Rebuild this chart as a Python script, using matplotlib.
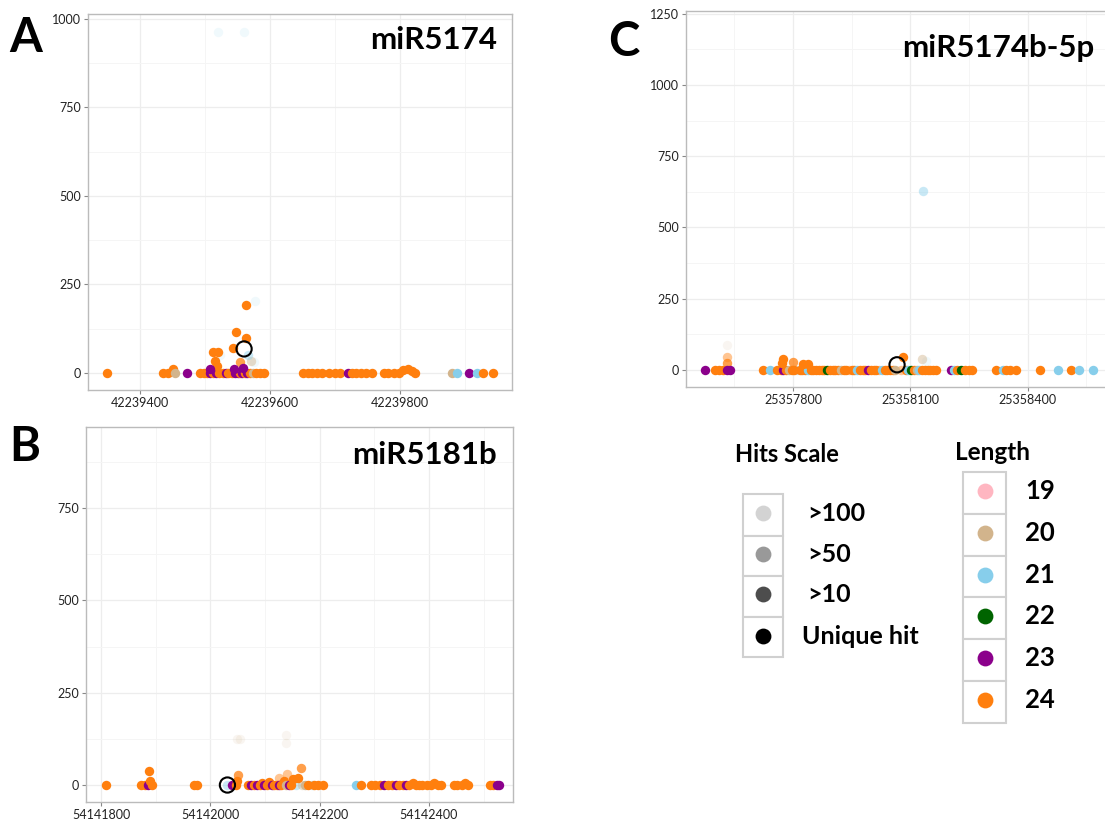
import matplotlib
matplotlib.use("Agg")
import matplotlib.pyplot as plt
from matplotlib.patches import Rectangle
from matplotlib.ticker import FuncFormatter, MultipleLocator

plt.rcParams['font.family'] = ['Lato', 'DejaVu Sans']

# colours for read length and alpha for hit class
len_colors = {19: '#FFB6C1', 20: '#D2B48C', 21: '#87CEEB', 22: '#006400', 23: '#8B008B', 24: '#FF7F0E'}
hit_alpha = {1: 1.0, 10: 0.75, 50: 0.45, 100: 0.12}
hit_labels = ['>100', '>50', '>10', 'Unique hit']
hit_colors = ['#D3D3D3', '#999999', '#4D4D4D', '#000000']
len_labels = [19, 20, 21, 22, 23, 24]

# ---- panel A : miR5174 ----
a_pos = [42239349, 42239436, 42239443, 42239450, 42239454, 42239472, 42239492, 42239498, 42239503,
         42239507, 42239512, 42239517, 42239522, 42239527, 42239532, 42239536, 42239541, 42239546,
         42239550, 42239553, 42239557, 42239561, 42239565, 42239569, 42239573, 42239578, 42239584,
         42239590,
         42239512, 42239520, 42239515, 42239518, 42239507, 42239548, 42239563, 42239563, 42239543,
         42239553, 42239570, 42239558, 42239545,
         42239577, 42239520, 42239560, 42239523, 42239575, 42239566,
         42239651, 42239658, 42239665, 42239672, 42239680, 42239690, 42239700, 42239708,
         42239720, 42239726, 42239732, 42239740, 42239748, 42239756,
         42239775, 42239782, 42239790, 42239798, 42239805, 42239812, 42239818, 42239823,
         42239880, 42239888, 42239906, 42239918, 42239928, 42239943]
a_val = [0, 0, 0, 10] + [0] * 24 + \
        [58, 58, 33, 19, 12, 115, 100, 193, 70, 30, 33, 15, 12] + \
        [202, 964, 964, 50, 30, 50] + \
        [0] * 8 + [0] * 6 + [0, 0, 0, 0, 8, 10, 6, 0] + [0] * 6
a_len = [24, 24, 24, 24, 20, 23, 24, 24, 24, 23, 24, 23, 24, 24, 23, 24, 24, 23, 23, 24, 23, 24, 23,
         24, 20, 24, 24, 24,
         24, 24, 24, 24, 23, 24, 24, 24, 24, 24, 20, 23, 23,
         21, 21, 21, 21, 21, 21,
         24, 24, 24, 24, 24, 24, 24, 24,
         23, 24, 24, 24, 24, 24,
         24, 24, 24, 24, 24, 24, 24, 24,
         20, 21, 23, 21, 24, 24]
a_hit = [1] * 28 + [1, 1, 1, 1, 1, 1, 1, 1, 1, 10, 50, 1, 1] + [100, 100, 100, 100, 100, 50] + [1] * 28
a_unique = (42239560, 68)

# ---- panel B : miR5181b ----
b_pos = [54141809, 54141872, 54141880, 54141885, 54141892, 54141888, 54141890, 54141969, 54141976,
         54142031, 54142040, 54142046, 54142050, 54142049, 54142048, 54142054,
         54142068, 54142075, 54142080, 54142085, 54142090, 54142094, 54142098, 54142103, 54142108,
         54142112, 54142117, 54142121, 54142126, 54142130, 54142134, 54142138, 54142143, 54142147,
         54142151, 54142156, 54142160, 54142165, 54142168, 54142173, 54142178, 54142185, 54142190,
         54142196, 54142206,
         54142139, 54142139, 54142140, 54142125,
         54142266, 54142275,
         54142294, 54142302, 54142310, 54142318, 54142325, 54142332, 54142340, 54142346, 54142352,
         54142358, 54142364, 54142370, 54142376, 54142382, 54142388, 54142396, 54142404, 54142410,
         54142416, 54142422,
         54142446, 54142452, 54142460, 54142466, 54142471,
         54142512, 54142518, 54142524, 54142529]
b_val = [0, 0, 0, 0, 0, 38, 10, 0, 0,
         0, 0, 0, 27, 12, 125, 125,
         0, 0, 0, 0, 0, 5, 0, 0, 8, 0, 0, 0, 0, 0, 10, 0, 0, 0, 15, 0, 18, 47, 0, 0, 0, 0, 0, 0, 0,
         136, 114, 30, 20,
         0, 0,
         0, 0, 0, 0, 0, 0, 0, 0, 0, 0, 0, 5, 0, 0, 0, 0, 0, 6, 0, 0,
         0, 0, 0, 6, 0,
         0, 0, 0, 0]
b_len = [24, 24, 24, 23, 24, 24, 24, 24, 24,
         21, 23, 24, 24, 24, 20, 20,
         24, 23, 24, 23, 24, 24, 23, 24, 24, 23, 24, 24, 23, 24, 24, 20, 23, 24, 24, 21, 24, 24, 20,
         20, 24, 21, 24, 24, 24,
         20, 20, 24, 24,
         21, 24,
         24, 24, 24, 23, 24, 24, 23, 24, 24, 23, 24, 24, 24, 24, 24, 24, 24, 24, 24, 24,
         24, 24, 24, 24, 24,
         24, 24, 23, 23]
b_hit = [1] * 9 + [50, 1, 1, 10, 1, 100, 100] + \
        [1] * 19 + [50, 1, 10, 50, 1, 1, 50, 1, 1, 1] + [100, 100, 50, 50] + [1] * 31
b_unique = (54142031, 0)

# ---- panel C : miR5174b-5p ----
c_pos = [25357574, 25357600, 25357610, 25357620, 25357630, 25357638, 25357631, 25357631, 25357631,
         25357723, 25357741,
         25357760, 25357768, 25357775, 25357782, 25357789, 25357796, 25357803, 25357810, 25357817,
         25357824, 25357831, 25357838, 25357845, 25357852, 25357859, 25357866, 25357873, 25357880,
         25357887, 25357894, 25357901, 25357908, 25357915, 25357922, 25357929, 25357936, 25357943,
         25357950, 25357957, 25357964, 25357971, 25357978, 25357985, 25357992, 25357999, 25358006,
         25358013, 25358020, 25358027, 25358034, 25358041, 25358048, 25358055, 25358062, 25358075,
         25358088, 25358095, 25358102, 25358109, 25358116, 25358123, 25358130, 25358137, 25358144,
         25358151, 25358158, 25358165,
         25357774, 25357772, 25357800, 25357826, 25357838, 25358082, 25358131, 25358140, 25358133,
         25358203, 25358212, 25358220, 25358230, 25358240, 25358250, 25358259,
         25358318, 25358336, 25358345, 25358356, 25358370,
         25358433, 25358477, 25358510, 25358531, 25358567]
c_val = [0, 0, 0, 0, 0, 0, 88, 47, 23,
         0, 0] + [0] * 57 + \
        [38, 25, 28, 22, 22, 44, 38, 30, 628] + \
        [0] * 7 + [0] * 5 + [0] * 5
c_len = [23, 24, 24, 24, 23, 23, 20, 24, 24,
         24, 21,
         24, 24, 23, 24, 20, 24, 24, 21, 24, 24, 24, 21, 24, 24, 24, 24, 24, 24, 22, 24, 24, 24, 24,
         20, 24, 24, 24, 24, 24, 21, 24, 24, 24, 23, 24, 24, 24, 24, 21, 24, 24, 24, 24, 20, 24, 24,
         21, 22, 24, 20, 21, 24, 24, 24, 24, 24, 24,
         24, 24, 24, 24, 24, 24, 20, 21, 21,
         23, 21, 24, 22, 24, 24, 24,
         24, 21, 24, 24, 24,
         24, 21, 24, 21, 21]
c_hit = [1] * 6 + [100, 50, 10] + [1] * 2 + \
        [1] * 7 + [50] + [1] * 18 + [50] + [1] * 10 + [50] + [1] * 6 + [50] + [1] * 12 + \
        [1, 1, 10, 1, 1, 1, 50, 100, 50] + [1] * 17
c_unique = (25358066, 18)

panels = [
    ('A', 'miR5174', a_pos, a_val, a_len, a_hit, a_unique,
     [88, 14, 512, 390], (42239320, 42239972), (-48, 1014), 200, 250),
    ('B', 'miR5181b', b_pos, b_val, b_len, b_hit, b_unique,
     [86, 427, 513, 802], (54141772, 54142554), (-46, 970), 200, 250),
    ('C', 'miR5174b-5p', c_pos, c_val, c_len, c_hit, c_unique,
     [686, 11, 1112, 387], (25357526, 25358616), (-60, 1260), 300, 250),
]

W, H = 1105, 822
fig = plt.figure(figsize=(W / 100, H / 100), dpi=100)

for letter, title, pos, val, lens, hits, uniq, box, xl, yl, xstep, ystep in panels:
    l, t, r, b = box
    ax = fig.add_axes([l / W, 1 - b / H, (r - l) / W, (b - t) / H])
    ax.set_xlim(*xl)
    ax.set_ylim(*yl)
    ax.xaxis.set_major_locator(MultipleLocator(xstep))
    ax.xaxis.set_minor_locator(MultipleLocator(xstep / 2))
    ax.yaxis.set_major_locator(MultipleLocator(ystep))
    ax.yaxis.set_minor_locator(MultipleLocator(ystep / 2))
    ax.xaxis.set_major_formatter(FuncFormatter(lambda v, p: '%d' % v))
    ax.grid(True, which='major', color='#EDEDED', lw=0.9)
    ax.grid(True, which='minor', color='#F5F5F5', lw=0.7)
    ax.set_axisbelow(True)
    ax.tick_params(which='major', length=3, width=0.8, color='#888888', labelsize=9,
                   labelcolor='#222222', pad=2)
    ax.tick_params(which='minor', length=0)
    for sp in ax.spines.values():
        sp.set_color('#BBBBBB')
        sp.set_linewidth(1.0)
    for p, v, n, h in sorted(zip(pos, val, lens, hits), key=lambda q: -q[3]):
        ax.scatter(p, v, s=46, color=len_colors[n], alpha=hit_alpha[h], lw=0, zorder=3)
    ax.scatter(*uniq, s=120, facecolor='none', edgecolor='black', lw=1.5, zorder=5)

# overlay in pixel coordinates for labels and legends
ov = fig.add_axes([0, 0, 1, 1])
ov.set_xlim(0, W)
ov.set_ylim(H, 0)
ov.axis('off')

ov.text(9, 38, 'A', fontsize=34, fontweight='bold', va='center', ha='left')
ov.text(9, 447, 'B', fontsize=34, fontweight='bold', va='center', ha='left')
ov.text(608, 42, 'C', fontsize=34, fontweight='bold', va='center', ha='left')
ov.text(497, 40, 'miR5174', fontsize=22.5, fontweight='bold', va='center', ha='right')
ov.text(497, 455, 'miR5181b', fontsize=22.5, fontweight='bold', va='center', ha='right')
ov.text(1094, 48, 'miR5174b-5p', fontsize=22.5, fontweight='bold', va='center', ha='right')

# Hits Scale legend
ov.text(735, 454, 'Hits Scale', fontsize=17, fontweight='bold', va='center', ha='left')
hit_rows = [494, 536, 576, 617, 657]
hit_centers = [513, 554, 594, 636]
for i, (lab, col) in enumerate(zip(hit_labels, hit_colors)):
    ov.add_patch(Rectangle((743, hit_rows[i]), 40, hit_rows[i + 1] - hit_rows[i],
                           facecolor='white', edgecolor='#D0D0D0', lw=1.5))
    ov.scatter(763, hit_centers[i], s=130, color=col, lw=0, zorder=4)
    ov.text(807 if i < 3 else 802, hit_centers[i], lab, fontsize=18, fontweight='bold',
            va='center', ha='left')

# Length legend
ov.text(955, 452, 'Length', fontsize=17.5, fontweight='bold', va='center', ha='left')
len_rows = [472, 514, 556, 597, 639, 681, 723]
for i, n in enumerate(len_labels):
    ov.add_patch(Rectangle((963, len_rows[i]), 43, len_rows[i + 1] - len_rows[i],
                           facecolor='white', edgecolor='#D0D0D0', lw=1.5))
    cy = (len_rows[i] + len_rows[i + 1]) / 2 - 2
    ov.scatter(985, cy, s=130, color=len_colors[n], lw=0, zorder=4)
    ov.text(1025, cy, str(n), fontsize=18.5, fontweight='bold', va='center', ha='left')

fig.savefig('out.png', dpi=100)
